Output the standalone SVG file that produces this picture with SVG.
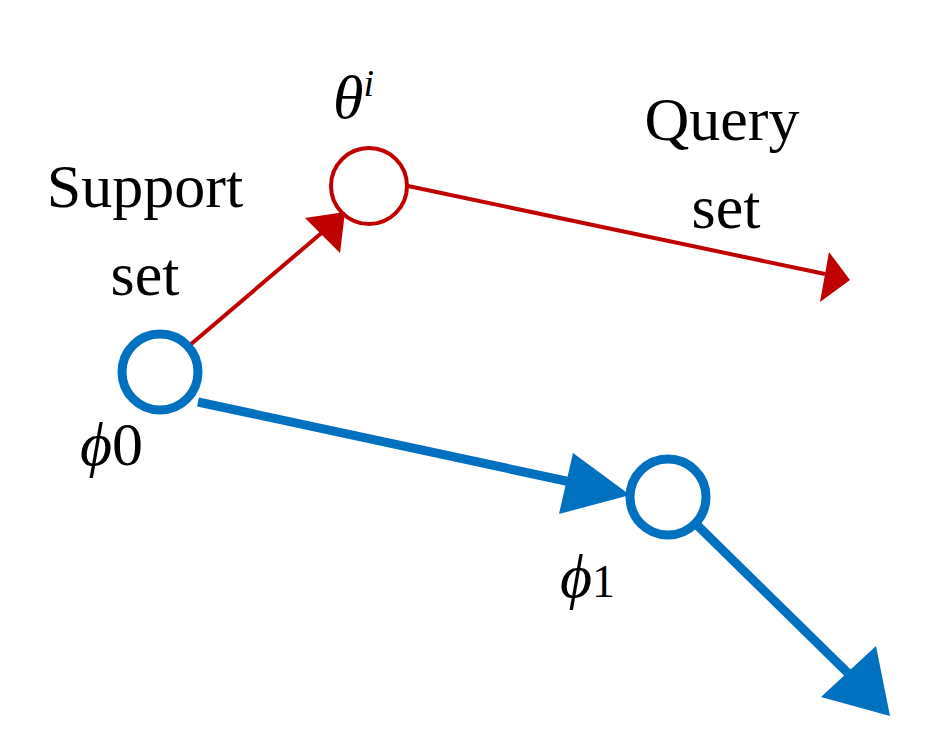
<svg xmlns="http://www.w3.org/2000/svg" width="933" height="754" viewBox="0 0 933 754">
<style>
.t{font-family:"Liberation Serif",serif;font-size:62px;fill:#000}
.i{font-style:italic}
.red{stroke:#C00000;fill:none}
.blue{stroke:#0070C0;fill:none}
</style>
<rect width="933" height="754" fill="#fff"/>
<g id="connectors">
<line class="red" x1="190" y1="345" x2="325" y2="230" stroke-width="4"/>
<polygon points="345,212 305,218 340,253" fill="#C00000"/>
<line class="red" x1="408" y1="186" x2="825" y2="274" stroke-width="4"/>
<polygon points="850,280 820,302 829,252" fill="#C00000"/>
<line class="blue" x1="198" y1="402" x2="580" y2="484" stroke-width="9"/>
<polygon points="630,495 559,514 573,453" fill="#0070C0"/>
<line class="blue" x1="697" y1="525" x2="855" y2="680" stroke-width="9"/>
<polygon points="890,716 821,697 876,646" fill="#0070C0"/>
</g>
<g id="phi0"><circle class="blue" cx="160" cy="372" r="38" stroke-width="9"/>
<text class="t i" x="80" y="465">ϕ<tspan class="t" font-style="normal" font-size="46" dy="0">0</tspan></text></g>
<g id="theta"><circle class="red" cx="369" cy="186" r="38" stroke-width="4"/>
<text class="t i" x="333" y="118">θ<tspan font-size="38" dy="-22">i</tspan></text></g>
<g id="phi1"><circle class="blue" cx="668" cy="497" r="38" stroke-width="9"/>
<text class="t i" x="560" y="597">ϕ<tspan font-style="normal" font-size="46">1</tspan></text></g>
<g id="support"><text class="t" x="145" y="207" text-anchor="middle">Support</text>
<text class="t" x="145" y="295" text-anchor="middle">set</text></g>
<g id="query"><text class="t" x="722" y="140" text-anchor="middle">Query</text>
<text class="t" x="726" y="228" text-anchor="middle">set</text></g>
</svg>
